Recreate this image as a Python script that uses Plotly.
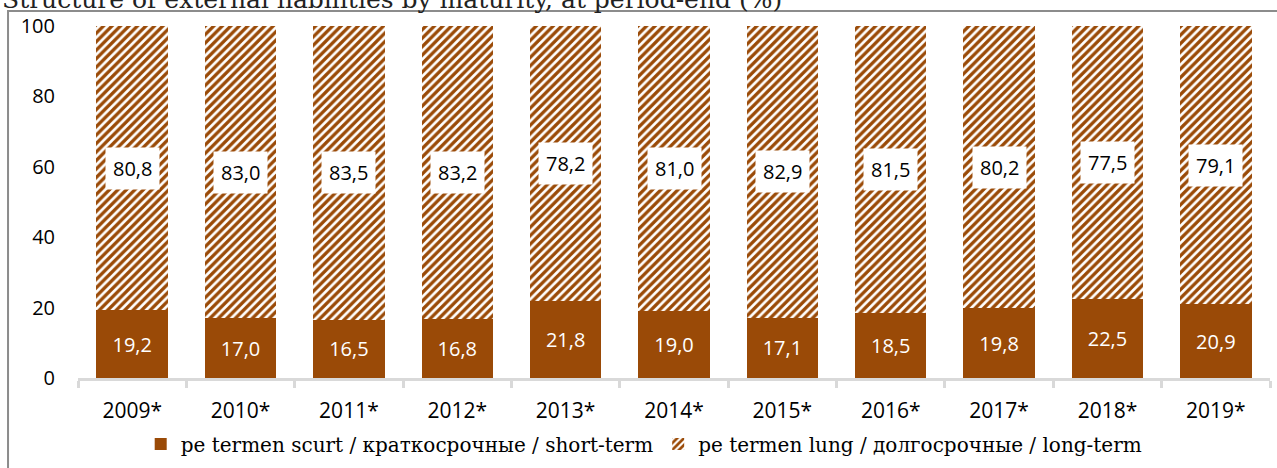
import plotly.graph_objects as go

years = ["2009*", "2010*", "2011*", "2012*", "2013*", "2014*", "2015*", "2016*", "2017*", "2018*", "2019*"]
short_term = [19.2, 17.0, 16.5, 16.8, 21.8, 19.0, 17.1, 18.5, 19.8, 22.5, 20.9]
long_term = [80.8, 83.0, 83.5, 83.2, 78.2, 81.0, 82.9, 81.5, 80.2, 77.5, 79.1]

name_short = "pe termen scurt / краткосрочные / short-term"
name_long = "pe termen lung / долгосрочные / long-term"
title_text = "Structure of external liabilities by maturity, at period-end (%)"

BROWN = "#9A4A07"
FONT = "Open Sans"
SERIF = "DejaVu Serif"

fig = go.Figure()
fig.add_trace(go.Bar(
    x=years, y=short_term, name=name_short,
    marker=dict(color=BROWN, line=dict(width=0)),
    texttemplate="%{y:.1f}", textposition="inside", insidetextanchor="middle",
    textfont=dict(color="white", size=20, family=FONT),
))
fig.add_trace(go.Bar(
    x=years, y=long_term, name=name_long,
    marker=dict(color=BROWN, line=dict(width=0),
                pattern=dict(shape="/", fgcolor=BROWN, bgcolor="white",
                             size=6, solidity=0.55, fillmode="replace")),
))

for yr, s, l in zip(years, short_term, long_term):
    fig.add_annotation(
        x=yr, y=s + l / 2, xref="x", yref="y",
        text=f"{l:.1f}".replace(".", ","), showarrow=False,
        bgcolor="white", borderpad=7,
        font=dict(color="black", size=20, family=FONT),
    )

# title (partially cut at the top, as in the reference) and outer border
fig.add_annotation(
    x=-0.0654, y=1.074, xref="paper", yref="paper", xanchor="left", yanchor="middle",
    text=title_text, showarrow=False,
    font=dict(family=SERIF, size=25, color="#222"),
)
fig.add_shape(type="rect", xref="paper", yref="paper",
              x0=-0.0587, x1=1.05, y0=-0.3, y1=1.0426,
              line=dict(color="#8c8c8c", width=2), fillcolor="rgba(0,0,0,0)")

fig.update_layout(
    width=1277, height=468,
    barmode="stack", bargap=0.34,
    separators=",.",
    paper_bgcolor="white", plot_bgcolor="white",
    margin=dict(l=78, r=7, t=26, b=90, autoexpand=False),
    font=dict(family=FONT, size=20, color="black"),
    showlegend=True,
    legend=dict(orientation="h", x=0.475, xanchor="center", y=-0.1875, yanchor="middle",
                font=dict(family=SERIF, size=20), traceorder="normal",
                itemwidth=30),
)
fig.update_xaxes(
    type="category", showline=True, linecolor="#d9d9d9", linewidth=3,
    ticks="outside", tickson="boundaries", ticklen=7, tickwidth=3, tickcolor="#d9d9d9",
    showgrid=False, tickfont=dict(size=21, family=FONT), ticklabelstandoff=12,
    automargin=False,
)
fig.update_yaxes(
    range=[0, 100], dtick=20, showgrid=False, showline=False, zeroline=False,
    ticks="", ticklabelstandoff=22, tickfont=dict(size=20, family=FONT),
    automargin=False,
)

fig.write_html("out.html", config={"displayModeBar": False},
               post_script="document.body.style.margin='0';")
